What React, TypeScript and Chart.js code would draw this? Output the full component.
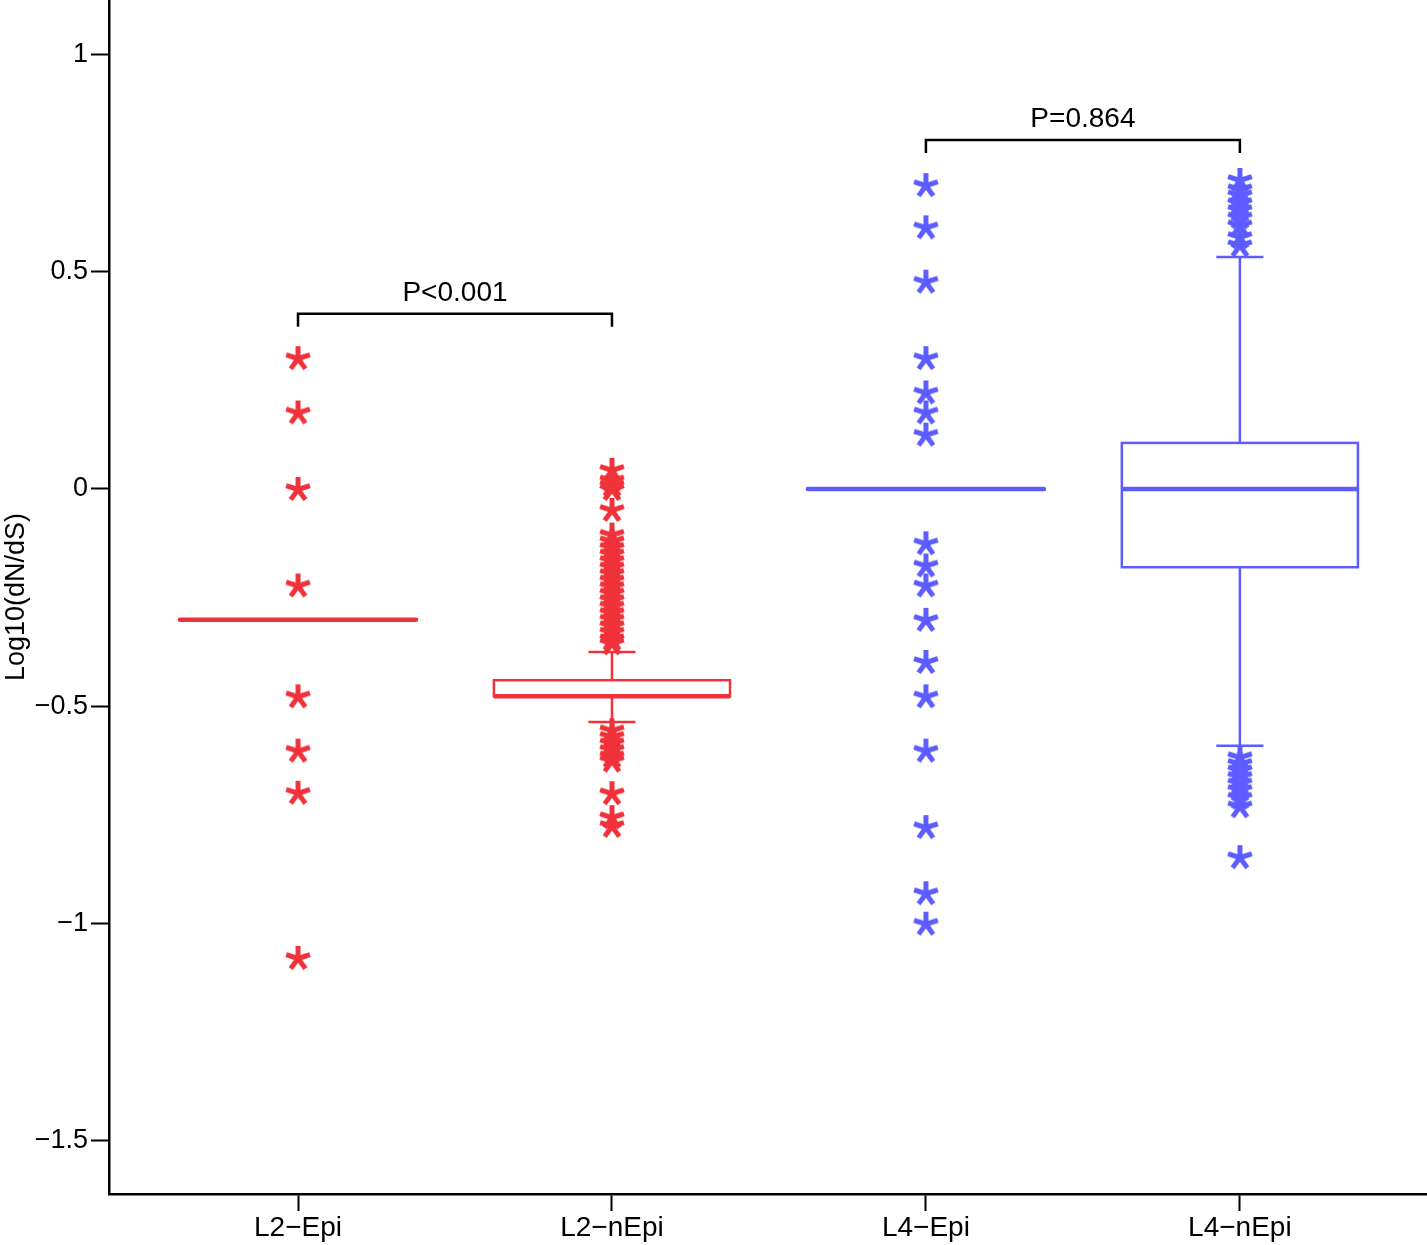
import React, { useEffect, useRef } from 'react';
import { Chart, registerables } from 'chart.js';

Chart.register(...registerables);

// ---------------- data ----------------
const categories = ['L2\u2212Epi', 'L2\u2212nEpi', 'L4\u2212Epi', 'L4\u2212nEpi'];
const categoryPositions = [1, 2, 3, 4];
const yTickValues = [-1.5, -1, -0.5, 0, 0.5, 1];

const q1Values = [-0.301, -0.477, 0, -0.18];
const medianValues = [-0.301, -0.477, 0, 0];
const q3Values = [-0.301, -0.44, 0, 0.106];
const whiskerLowValues = [-0.301, -0.536, 0, -0.591];
const whiskerHighValues = [-0.301, -0.375, 0, 0.534];

const outliersL2Epi = [0.301, 0.176, 0, -0.222, -0.477, -0.602, -0.699, -1.079];
const outliersL2nEpi = [
  0.044, 0.02, 0.009, 0, -0.048, -0.105, -0.12, -0.135, -0.15, -0.165, -0.18, -0.195,
  -0.21, -0.225, -0.24, -0.255, -0.27, -0.285, -0.3, -0.315, -0.33, -0.345, -0.355,
  -0.555, -0.57, -0.585, -0.6, -0.615, -0.625, -0.7, -0.755, -0.775,
];
const outliersL4Epi = [
  0.699, 0.602, 0.477, 0.301, 0.222, 0.176, 0.125, -0.125, -0.176, -0.222, -0.301,
  -0.398, -0.477, -0.602, -0.778, -0.93, -1.0,
];
const outliersL4nEpi = [
  0.711, 0.69, 0.676, 0.658, 0.642, 0.625, 0.607, 0.58, 0.561, -0.617, -0.632, -0.647,
  -0.662, -0.677, -0.692, -0.71, -0.73, -0.847,
];

const bracketPairs = [
  [1, 2],
  [3, 4],
];
const bracketValues = [0.403, 0.803];
const bracketLabels = ['P<0.001', 'P=0.864'];

// ---------------- styles ----------------
const RED = 'rgb(240,50,58)';
const BLUE = 'rgb(92,92,255)';
const groupColors = [RED, RED, BLUE, BLUE];
const FONT = '"Liberation Sans", Arial, Helvetica, sans-serif';
const BOX_HALF = 0.376;
const CAP_HALF = 0.075;

function makeAsterisk(color: string): HTMLCanvasElement {
  const c = document.createElement('canvas');
  c.width = 30;
  c.height = 30;
  const g = c.getContext('2d')!;
  g.strokeStyle = color;
  g.lineWidth = 5;
  g.lineCap = 'butt';
  const r = 12.5;
  const cx = 15;
  const cy = 15.5;
  for (let k = 0; k < 5; k++) {
    const a = -Math.PI / 2 + (k * 2 * Math.PI) / 5;
    g.beginPath();
    g.moveTo(cx, cy);
    g.lineTo(cx + r * Math.cos(a), cy + r * Math.sin(a));
    g.stroke();
  }
  return c;
}

const boxPlugin = {
  id: 'boxPlot',
  beforeDatasetsDraw(chart: any) {
    const { ctx, scales } = chart;
    const x = scales.x;
    const y = scales.y;
    ctx.save();
    categoryPositions.forEach((pos, i) => {
      const color = groupColors[i];
      const cx = x.getPixelForValue(pos);
      const left = x.getPixelForValue(pos - BOX_HALF);
      const right = x.getPixelForValue(pos + BOX_HALF);
      const capL = x.getPixelForValue(pos - CAP_HALF);
      const capR = x.getPixelForValue(pos + CAP_HALF);
      const yq1 = y.getPixelForValue(q1Values[i]);
      const yq3 = y.getPixelForValue(q3Values[i]);
      const ymed = y.getPixelForValue(medianValues[i]);
      const ylo = y.getPixelForValue(whiskerLowValues[i]);
      const yhi = y.getPixelForValue(whiskerHighValues[i]);
      ctx.strokeStyle = color;
      ctx.lineWidth = 2.5;
      ctx.lineCap = 'butt';
      const line = (x1: number, y1: number, x2: number, y2: number) => {
        ctx.beginPath();
        ctx.moveTo(x1, y1);
        ctx.lineTo(x2, y2);
        ctx.stroke();
      };
      if (yhi !== yq3) {
        line(cx, yq3, cx, yhi);
        line(capL, yhi, capR, yhi);
      }
      if (ylo !== yq1) {
        line(cx, yq1, cx, ylo);
        line(capL, ylo, capR, ylo);
      }
      if (Math.abs(yq1 - yq3) > 0.5) {
        ctx.strokeRect(left, yq3, right - left, yq1 - yq3);
      }
      ctx.lineWidth = 4.5;
      ctx.lineCap = Math.abs(yq1 - yq3) > 0.5 ? 'butt' : 'round';
      line(left, ymed, right, ymed);
    });

    // significance brackets
    ctx.strokeStyle = '#000';
    ctx.fillStyle = '#000';
    ctx.lineWidth = 2.5;
    ctx.lineCap = 'butt';
    ctx.lineJoin = 'miter';
    ctx.font = `28px ${FONT}`;
    ctx.textAlign = 'center';
    ctx.textBaseline = 'middle';
    bracketPairs.forEach((pair, i) => {
      const x1 = x.getPixelForValue(pair[0]);
      const x2 = x.getPixelForValue(pair[1]);
      const yb = y.getPixelForValue(bracketValues[i]);
      ctx.beginPath();
      ctx.moveTo(x1, yb + 13);
      ctx.lineTo(x1, yb);
      ctx.lineTo(x2, yb);
      ctx.lineTo(x2, yb + 13);
      ctx.stroke();
      ctx.fillText(bracketLabels[i], (x1 + x2) / 2, yb - 21);
    });
    ctx.restore();
  },
};

export default function App() {
  const ref = useRef<HTMLCanvasElement | null>(null);

  useEffect(() => {
    document.body.style.margin = '0';
    const canvas = ref.current;
    if (!canvas) return;
    const redStar = makeAsterisk(RED);
    const blueStar = makeAsterisk(BLUE);
    const groups = [outliersL2Epi, outliersL2nEpi, outliersL4Epi, outliersL4nEpi];
    const datasets = groups.map((vals, i) => ({
      label: categories[i],
      data: vals.map((v) => ({ x: categoryPositions[i], y: v })),
      pointStyle: groupColors[i] === RED ? redStar : blueStar,
      pointRadius: 12,
      borderColor: groupColors[i],
      backgroundColor: groupColors[i],
      clip: false,
    }));

    const chart = new Chart(canvas, {
      type: 'scatter',
      data: { datasets: datasets as any },
      plugins: [boxPlugin],
      options: {
        animation: false,
        responsive: false,
        devicePixelRatio: 1,
        layout: { padding: 0, autoPadding: false },
        plugins: { legend: { display: false }, tooltip: { enabled: false } },
        scales: {
          x: {
            type: 'linear',
            min: 0.398,
            max: 4.596,
            afterBuildTicks: (s: any) => {
              s.ticks = categoryPositions.map((v) => ({ value: v }));
            },
            afterFit: (s: any) => {
              s.height = 51;
              s.paddingLeft = 0;
              s.paddingRight = 0;
            },
            ticks: {
              autoSkip: false,
              maxRotation: 0,
              padding: 0,
              color: '#000',
              font: { family: FONT, size: 28 },
              callback: (v: any) => {
                const idx = categoryPositions.indexOf(Number(v));
                return idx >= 0 ? categories[idx] : '';
              },
            },
            grid: {
              drawOnChartArea: false,
              drawTicks: true,
              tickLength: 17,
              tickWidth: 2,
              tickColor: '#000',
            },
            border: { display: true, color: '#000', width: 2.5 },
          },
          y: {
            type: 'linear',
            min: -1.622,
            max: 1.125,
            afterBuildTicks: (s: any) => {
              s.ticks = yTickValues.map((v) => ({ value: v }));
            },
            afterFit: (s: any) => {
              s.width = 109;
              s.paddingTop = 0;
              s.paddingBottom = 0;
            },
            ticks: {
              autoSkip: false,
              padding: 3,
              color: '#000',
              font: { family: FONT, size: 27 },
              callback: (v: any) => {
                const n = Number(v);
                return n < 0 ? '\u2212' + String(Math.abs(n)) : String(n);
              },
            },
            grid: {
              drawOnChartArea: false,
              drawTicks: true,
              tickLength: 18,
              tickWidth: 2,
              tickColor: '#000',
            },
            border: { display: true, color: '#000', width: 2.5 },
            title: {
              display: true,
              text: 'Log10(dN/dS)',
              color: '#000',
              font: { family: FONT, size: 27 },
              padding: 0,
            },
          },
        },
      },
    });
    return () => chart.destroy();
  }, []);

  return (
    <div style={{ position: 'absolute', left: 0, top: 0, width: 1427, height: 1245 }}>
      <canvas ref={ref} width={1427} height={1245} style={{ width: 1427, height: 1245, display: 'block' }} />
    </div>
  );
}
